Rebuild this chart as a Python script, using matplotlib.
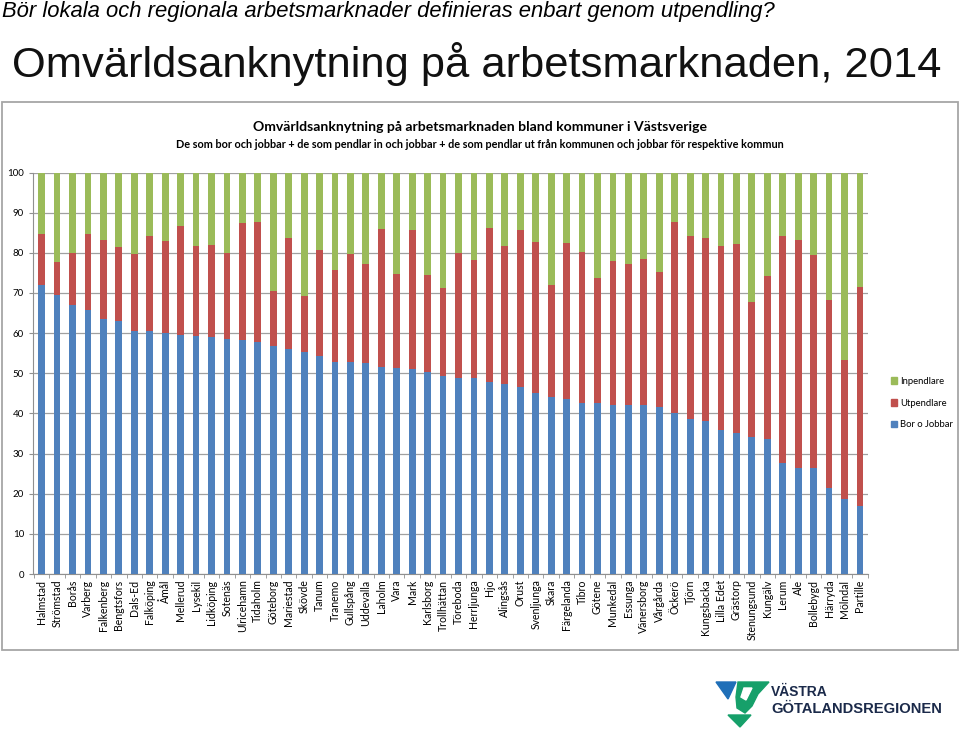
import matplotlib
matplotlib.use("Agg")
import matplotlib.pyplot as plt
from matplotlib.patches import Rectangle, Polygon, Patch
import numpy as np

# Kommuner, sorterade efter andel som bor och jobbar i kommunen
kommuner = [
    "Halmstad", "Strömstad", "Borås", "Varberg", "Falkenberg", "Bengtsfors",
    "Dals-Ed", "Falköping", "Åmål", "Mellerud", "Lysekil", "Lidköping",
    "Sotenäs", "Ulricehamn", "Tidaholm", "Göteborg", "Mariestad", "Skövde",
    "Tanum", "Tranemo", "Gullspång", "Uddevalla", "Laholm", "Vara", "Mark",
    "Karlsborg", "Trollhättan", "Töreboda", "Herrljunga", "Hjo", "Alingsås",
    "Orust", "Svenljunga", "Skara", "Färgelanda", "Tibro", "Götene",
    "Munkedal", "Essunga", "Vänersborg", "Vårgårda", "Öckerö", "Tjörn",
    "Kungsbacka", "Lilla Edet", "Grästorp", "Stenungsund", "Kungälv", "Lerum",
    "Ale", "Bollebygd", "Härryda", "Mölndal", "Partille",
]
bor_o_jobbar = [
    72.0, 69.4, 66.9, 65.8, 63.4, 63.1, 60.6, 60.4, 60.1, 59.5, 59.4, 59.1,
    58.5, 58.3, 57.9, 56.7, 56.0, 55.4, 54.4, 52.8, 52.8, 52.6, 51.5, 51.2,
    51.0, 50.4, 49.2, 48.8, 48.9, 47.7, 47.4, 46.6, 45.1, 44.1, 43.6, 42.6,
    42.5, 42.2, 42.1, 42.0, 41.6, 40.2, 38.6, 38.2, 35.8, 35.2, 34.1, 33.6,
    27.6, 26.5, 26.5, 21.3, 18.8, 17.0,
]
utpendlare = [
    12.8, 8.2, 13.0, 18.9, 19.9, 18.4, 19.1, 23.8, 22.9, 27.2, 22.2, 22.8,
    21.5, 29.1, 29.7, 13.9, 27.7, 13.8, 26.4, 22.8, 27.0, 24.6, 34.5, 23.5,
    34.8, 24.0, 22.0, 31.2, 29.3, 38.6, 34.4, 39.0, 37.7, 27.8, 38.8, 37.7,
    31.2, 35.7, 35.0, 36.4, 33.7, 47.4, 45.6, 45.6, 45.8, 47.0, 33.6, 40.7,
    56.5, 56.8, 52.9, 46.9, 34.6, 54.4,
]
inpendlare = [
    15.2, 22.4, 20.1, 15.3, 16.7, 18.5, 20.3, 15.8, 17.0, 13.3, 18.4, 18.1,
    20.0, 12.6, 12.4, 29.4, 16.3, 30.8, 19.2, 24.4, 20.2, 22.8, 14.0, 25.3,
    14.2, 25.6, 28.8, 20.0, 21.8, 13.7, 18.2, 14.4, 17.2, 28.1, 17.6, 19.7,
    26.3, 22.1, 22.9, 21.6, 24.7, 12.4, 15.8, 16.2, 18.4, 17.8, 32.3, 25.7,
    15.9, 16.7, 20.6, 31.8, 46.6, 28.6,
]

BLA = "#4F81BD"
ROD = "#C0504D"
GRON = "#9BBB59"
FONT = "Lato"

fig = plt.figure(figsize=(9.6, 7.3), dpi=100)
W, H = 960, 730


def fx(px):
    return px / W


def fy(py):
    return 1 - py / H


# rubriker på sliden
fig.text(fx(2), fy(12), "Bör lokala och regionala arbetsmarknader definieras enbart genom utpendling?",
         fontsize=15.8, style="italic", family="Liberation Sans", va="center", ha="left")
fig.text(fx(12), fy(64), "Omvärldsanknytning på arbetsmarknaden, 2014",
         fontsize=31.3, family="Liberation Sans", va="center", ha="left", color="#111111")

# ram runt diagrammet
fig.patches.append(Rectangle((fx(2), fy(650)), fx(956), 548 / H, transform=fig.transFigure,
                             fill=False, edgecolor="#A6A6A6", lw=1.3))

fig.text(fx(480), fy(127), "Omvärldsanknytning på arbetsmarknaden bland kommuner i Västsverige",
         fontsize=10.1, weight="bold", family=FONT, ha="center", va="center")
fig.text(fx(480), fy(145), "De som bor och jobbar + de som pendlar in och jobbar + de som pendlar ut från kommunen och jobbar för respektive kommun",
         fontsize=7.8, weight="bold", family=FONT, ha="center", va="center")

ax = fig.add_axes([fx(33), fy(574), fx(835), (574 - 172.5) / H])
x = np.arange(len(kommuner))
b = np.array(bor_o_jobbar)
u = np.array(utpendlare)
i = np.array(inpendlare)
w = 0.44
ax.bar(x, b, w, color=BLA, zorder=3)
ax.bar(x, u, w, bottom=b, color=ROD, zorder=3)
ax.bar(x, i, w, bottom=b + u, color=GRON, zorder=3)

ax.set_xlim(-0.56, len(kommuner) - 0.48)
ax.set_ylim(0, 100)
ax.set_yticks(range(0, 101, 10))
ax.yaxis.grid(True, color="#A0A0A0", lw=0.9, zorder=0)
ax.set_xticks(x)
ax.set_xticklabels(kommuner, rotation=90, fontsize=7.6, family=FONT)
ax.set_xticks(np.arange(-0.5, len(kommuner), 1), minor=True)
ax.tick_params(axis="x", which="major", length=0, pad=4)
ax.tick_params(axis="x", which="minor", length=3, color="#909090")
ax.tick_params(axis="y", length=3, color="#909090", labelsize=7)
for t in ax.get_yticklabels():
    t.set_family(FONT)
for s in ("top", "right"):
    ax.spines[s].set_visible(False)
ax.spines["left"].set_color("#909090")
ax.spines["bottom"].set_color("#909090")

handles = [Patch(color=GRON, label="Inpendlare"),
           Patch(color=ROD, label="Utpendlare"),
           Patch(color=BLA, label="Bor o Jobbar")]
fig.legend(handles=handles, loc="center left", bbox_to_anchor=(fx(882), fy(403)),
           frameon=False, prop={"family": FONT, "size": 6.8}, handlelength=0.7,
           handleheight=0.7, handletextpad=0.3, labelspacing=1.35)

# logotyp (förenklad)
fig.patches.append(Polygon([(fx(716), fy(682)), (fx(736), fy(682)), (fx(728), fy(699))],
                           closed=True, transform=fig.transFigure, color="#1F6FB8"))
fig.patches.append(Polygon([(fx(738), fy(682)), (fx(769), fy(682)), (fx(758), fy(694)),
                            (fx(752), fy(706)), (fx(745), fy(713)), (fx(737), fy(708)),
                            (fx(736), fy(697))],
                           closed=True, transform=fig.transFigure, color="#16A06A"))
fig.patches.append(Polygon([(fx(744), fy(688)), (fx(752), fy(688)), (fx(746), fy(700)),
                            (fx(741), fy(697))],
                           closed=True, transform=fig.transFigure, color="white"))
fig.patches.append(Polygon([(fx(728), fy(715)), (fx(751), fy(715)), (fx(740), fy(727))],
                           closed=True, transform=fig.transFigure, color="#16A06A"))
fig.text(fx(771), fy(692), "VÄSTRA", fontsize=10, weight="semibold", color="#1B2A4A",
         family="Liberation Sans", va="center", ha="left")
fig.text(fx(771), fy(709), "GÖTALANDSREGIONEN", fontsize=10.6, weight="semibold", color="#1B2A4A",
         family="Liberation Sans", va="center", ha="left")

fig.savefig("out.png", dpi=100)
